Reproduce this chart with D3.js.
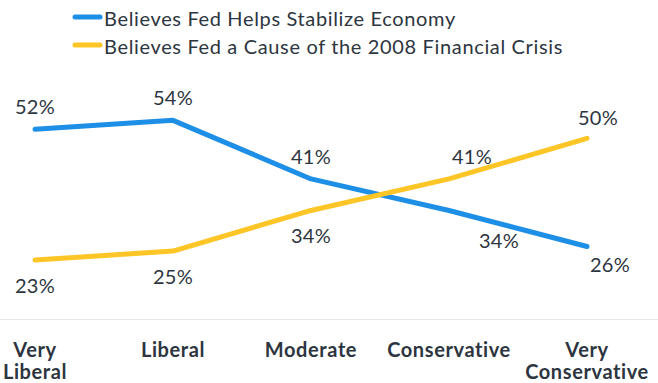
<!DOCTYPE html>
<html lang="en">
<head>
<meta charset="UTF-8">
<title>Views of the Fed by Ideology</title>
<script src="https://d3js.org/d3.v7.min.js"></script>
<style>
  body { margin: 0; background: #fff; }
  svg { display: block; font-family: Lato, "Noto Sans", sans-serif; }
  .lbl { font-size: 20px; letter-spacing: 0.3px; fill: #2d3540; text-anchor: middle; }
  .cat { font-size: 20px; letter-spacing: 0.6px; font-weight: 700; fill: #2d3540; text-anchor: middle; }
  .leg { font-size: 20px; letter-spacing: 0.65px; fill: #2d3540; }
</style>
</head>
<body>
<svg id="chart"></svg>
<script>
// data
const categories = ["Very Liberal", "Liberal", "Moderate", "Conservative", "Very Conservative"];
const seriesNames = ["Believes Fed Helps Stabilize Economy", "Believes Fed a Cause of the 2008 Financial Crisis"];
const helpsStabilize = [52, 54, 41, 34, 26];
const causeOfCrisis = [23, 25, 34, 41, 50];

// label placement (dx, dy from the point) per series
const labelNudge = [
  [[0, -15], [0, -15], [0, -15], [50, 38], [23, 25]],
  [[0, 33], [0, 33], [0, 33], [23, -15], [11, -13]]
];

const width = 658, height = 383;
const colors = ["#1e8fe6", "#fdc526"];

const svg = d3.select("#chart").attr("width", width).attr("height", height);

const x = d3.scalePoint().domain(categories).range([35, 587]).padding(0);
const y = d3.scaleLinear().domain([0, 60]).range([363.7, 93.3]);

// baseline rule
svg.append("line")
  .attr("x1", 0).attr("x2", width)
  .attr("y1", 319.5).attr("y2", 319.5)
  .attr("stroke", "#e8e8e8").attr("stroke-width", 1);

const series = [helpsStabilize, causeOfCrisis];
const line = d3.line().x((d, i) => x(categories[i])).y(d => y(d));

series.forEach((vals, s) => {
  svg.append("path")
    .datum(vals)
    .attr("d", line)
    .attr("fill", "none")
    .attr("stroke", colors[s])
    .attr("stroke-width", 5)
    .attr("stroke-linecap", "round")
    .attr("stroke-linejoin", "round");
});

series.forEach((vals, s) => {
  svg.selectAll(null)
    .data(vals)
    .enter()
    .append("text")
    .attr("class", "lbl")
    .attr("x", (d, i) => x(categories[i]) + labelNudge[s][i][0])
    .attr("y", (d, i) => y(d) + labelNudge[s][i][1])
    .text(d => d + "%");
});

// category labels (wrapped at spaces for the "Very" ones)
categories.forEach(c => {
  const words = c.startsWith("Very ") ? ["Very", c.slice(5)] : [c];
  const t = svg.append("text").attr("class", "cat")
    .attr("x", x(c)).attr("y", 357);
  words.forEach((w, k) => {
    t.append("tspan").attr("x", x(c)).attr("dy", k === 0 ? 0 : 22).text(w);
  });
});

// legend
const leg = svg.append("g");
seriesNames.forEach((n, s) => {
  const ly = 17 + s * 28;
  leg.append("line")
    .attr("x1", 75).attr("x2", 100)
    .attr("y1", ly).attr("y2", ly)
    .attr("stroke", colors[s]).attr("stroke-width", 5)
    .attr("stroke-linecap", "round");
  leg.append("text").attr("class", "leg")
    .attr("x", 104).attr("y", ly + 9).text(n);
});
</script>
</body>
</html>
